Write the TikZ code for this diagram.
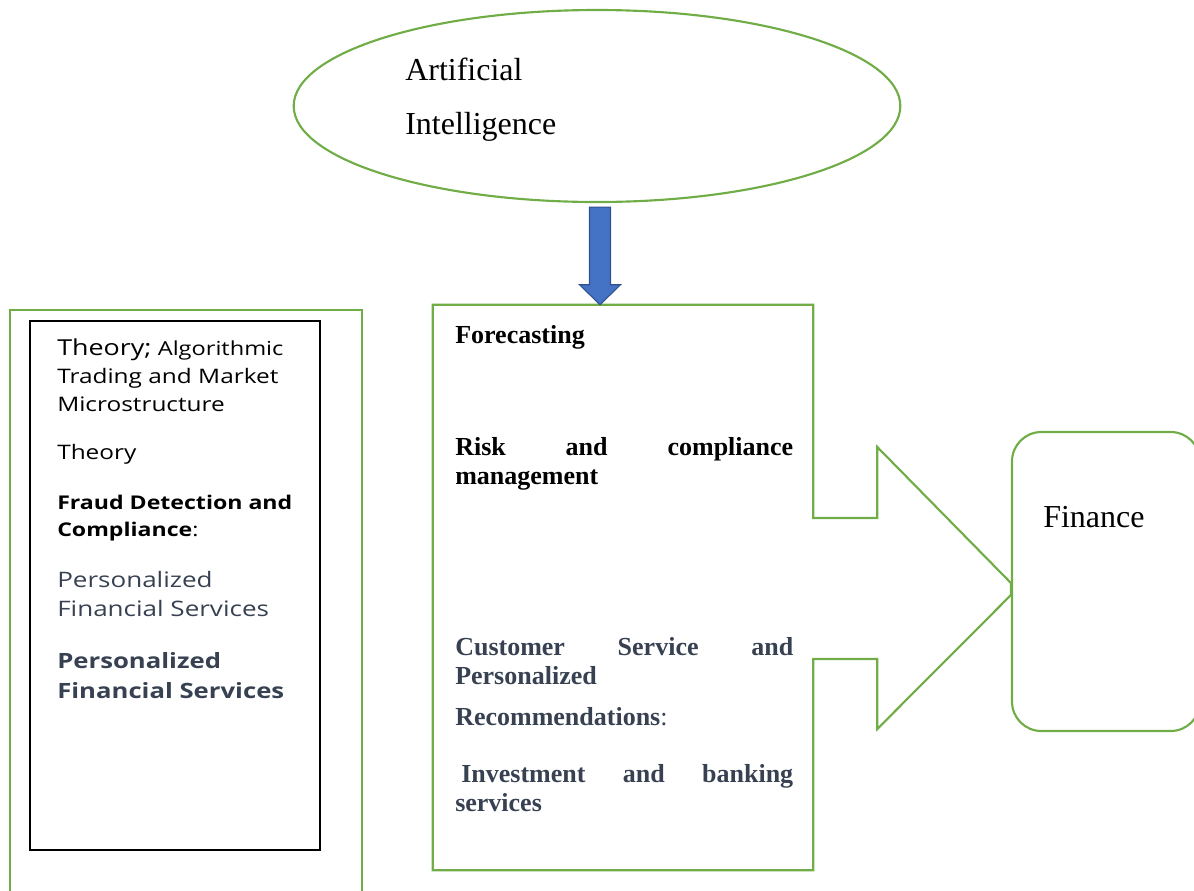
\documentclass[tikz,border=0pt]{standalone}
\usepackage{fontspec}
\setmainfont{Liberation Serif}
\newfontfamily\osans[FakeStretch=1.22]{Open Sans}
\newcommand\nohyph{\hyphenpenalty=10000\exhyphenpenalty=10000\relax}
\usepackage{tikz}
\usetikzlibrary{
  arrows.meta,
  shapes.geometric,
  positioning,
  calc
}
\definecolor{aiGreen}{HTML}{70AD47}
\definecolor{aiBlue}{HTML}{4472C4}
\definecolor{aiBlueDark}{HTML}{2F528F}
\definecolor{aiSlate}{HTML}{374151}
\tikzset{
  greenline/.style={draw=aiGreen, line width=1.6pt},
  aicloud/.style={greenline, ellipse, minimum width=455pt, minimum height=144pt},
  outerbox/.style={greenline, minimum width=264pt, minimum height=442.5pt},
  innerbox/.style={draw=black, line width=1.8pt, minimum width=217.5pt, minimum height=396.75pt},
  midbox/.style={minimum width=285pt, minimum height=423.75pt},
  finbox/.style={greenline, rounded corners=22pt, minimum width=141pt, minimum height=224.25pt},
  downarrow/.style={fill=aiBlue, draw=aiBlueDark, line width=0.8pt, line join=miter},
  bigtext/.style={font=\fontsize{24}{40.5}\selectfont, inner sep=0pt, align=left, anchor=base west},
  midtext/.style={
    font=\bfseries\fontsize{19.5}{21.75}\selectfont\nohyph,
    text width=253.5pt, align=justify, inner sep=0pt, anchor=base west
  },
  sidetext/.style={font=\osans\fontsize{15}{21}\selectfont, inner sep=0pt, align=left, anchor=base west}
}

\begin{document}
\begin{tikzpicture}[x=0.75pt, y=-0.75pt]
  \useasboundingbox (0,0) rectangle (1194,890);
  \clip (0,0) rectangle (1194,890);

  \node[aicloud] (ai) at (597,106) {};
  \node[bigtext] (ailabel) at (405,134) {Artificial\\Intelligence};

  \node[outerbox] (outer) at (186,605) {};
  \node[innerbox] (inner) at (175,585.5) {};
  \node[midbox] (mid) at (623,587.5) {};
  \node[finbox] (fin) at (1106,581.5) {};
  \node[bigtext] (finlabel) at (1043,527) {Finance};

  % box outline running into the arrow towards Finance
  \draw[greenline, line join=miter] ($(mid.east)+(0,-69.5)$) -- (mid.north east) -- (mid.north west)
    -- (mid.south west) -- (mid.south east) -- ($(mid.east)+(0,71.5)$) -- ++(64,0) -- ++(0,70)
    -- ($(fin.west)+(0,13.5)$) -- ($(fin.west)+(0,1.5)$) -- ($(mid.east)+(64,-140.5)$) -- ++(0,71) -- cycle;

  \coordinate (aitop) at ($(ai.south)+(3,4)$);
  \coordinate (aibot) at (aitop |- mid.north);
  \draw[downarrow] ($(aitop)+(-10.5,0)$) -- ($(aitop)+(10.5,0)$) -- ($(aibot)+(10.5,-20)$)
    -- ($(aibot)+(20.5,-20)$) -- (aibot) -- ($(aibot)+(-20.5,-20)$) -- ($(aibot)+(-10.5,-20)$) -- cycle;

  \node[midtext] (fcast) at (455,343) {Forecasting};
  \node[midtext] (risk) at (455,455) {Risk and compliance management};
  \node[midtext, text=aiSlate] (cust) at (455,655) {Customer Service and Personalized};
  \node[midtext, text=aiSlate] (recom) at (455,725) {Recommendations\textmd{:}};
  \node[midtext, text=aiSlate] (invest) at (455,782) {\hspace*{4.5pt}Investment and banking services};

  \node[sidetext] (theory) at (57,411) {{\fontsize{16.5}{21}\selectfont Theory;} {\fontsize{14.5}{21}\selectfont Algorithmic}\\Trading and Market\\Microstructure};
  \node[sidetext] (theory2) at (57,459) {Theory};
  \node[sidetext, font=\osans\bfseries\fontsize{14.2}{20.25}\selectfont] (fraud) at (57,536) {Fraud Detection and\\Compliance\textmd{:}};
  \node[sidetext, text=aiSlate, font=\osans\fontsize{16}{21.75}\selectfont] (pers) at (57,616) {Personalized\\Financial Services};
  \node[sidetext, text=aiSlate, font=\osans\bfseries\fontsize{15.8}{22.5}\selectfont] (persb) at (57,698) {Personalized\\Financial Services};
\end{tikzpicture}
\end{document}
